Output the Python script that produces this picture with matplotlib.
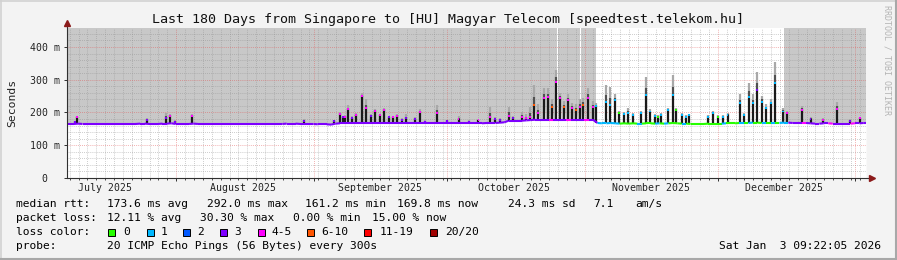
import datetime as dt
import matplotlib
matplotlib.use("Agg")
import matplotlib.pyplot as plt
import matplotlib.dates as mdates
import matplotlib.patches as patches
from matplotlib.collections import LineCollection

plt.rcParams["font.family"] = ["DejaVu Sans Mono"]

W, H = 897, 260
end_time = dt.datetime(2026, 1, 3, 9, 22, 5)
n_days = 180
start_time = end_time - dt.timedelta(days=n_days)

title = "Last 180 Days from Singapore to [HU] Magyar Telecom [speedtest.telekom.hu]"
month_labels = ["July 2025", "August 2025", "September 2025",
                "October 2025", "November 2025", "December 2025"]
month_nums = [(2025, 7), (2025, 8), (2025, 9), (2025, 10), (2025, 11), (2025, 12)]
y_ticks = [0, 100, 200, 300, 400]
y_tick_labels = ["0  ", "100 m", "200 m", "300 m", "400 m"]

# daily median baseline (ms), one value per day since start
base_ms = [
    165, 165, 166, 165, 165, 165, 165, 165, 165, 165,
    165, 165, 165, 165, 165, 165, 166, 166, 165, 165,
    165, 166, 166, 167, 165, 165, 165, 165, 166, 165,
    165, 165, 165, 165, 165, 165, 165, 165, 165, 165,
    165, 165, 165, 165, 165, 165, 165, 165, 165, 166,
    166, 166, 165, 165, 165, 165, 164, 164, 164, 163,
    166, 167, 167, 167, 167, 167, 167, 167, 167, 167,
    167, 167, 167, 167, 167, 167, 167, 167, 167, 167,
    167, 167, 167, 167, 167, 167, 167, 167, 167, 167,
    167, 167, 167, 167, 168, 168, 168, 169, 170, 175,
    175, 175, 175, 176, 177, 178, 178, 178, 178, 178,
    178, 178, 178, 178, 178, 178, 178, 178, 178, 168,
    167, 167, 168, 167, 166, 167, 166, 167, 166, 166,
    167, 167, 166, 167, 166, 167, 168, 167, 166, 166,
    165, 165, 165, 165, 166, 166, 166, 166, 167, 167,
    167, 168, 168, 168, 169, 169, 168, 168, 168, 168,
    168, 169, 169, 168, 168, 168, 168, 167, 166, 166,
    167, 167, 166, 166, 166, 166, 166, 167, 167, 168,
]

# loss class per day (index into loss_colors)
loss_day = [
    3, 3, 3, 3, 3, 3, 3, 3, 3, 3,
    3, 3, 3, 3, 3, 3, 3, 3, 3, 3,
    3, 3, 3, 3, 3, 3, 3, 3, 3, 3,
    3, 3, 3, 3, 3, 3, 3, 3, 3, 3,
    3, 3, 3, 3, 3, 3, 3, 3, 3, 3,
    3, 3, 3, 3, 3, 3, 3, 3, 3, 3,
    3, 3, 3, 3, 3, 3, 3, 3, 3, 3,
    3, 3, 3, 3, 3, 3, 3, 3, 3, 3,
    3, 3, 3, 3, 3, 3, 3, 3, 3, 3,
    3, 3, 3, 3, 3, 3, 3, 3, 3, 3,
    3, 3, 3, 3, 3, 3, 3, 3, 4, 3,
    3, 3, 4, 3, 3, 3, 4, 3, 3, 1,
    1, 1, 1, 1, 0, 0, 0, 0, 1, 0,
    0, 0, 1, 0, 1, 0, 0, 0, 1, 0,
    0, 0, 0, 0, 0, 0, 0, 1, 0, 0,
    0, 1, 0, 1, 0, 0, 1, 0, 1, 0,
    1, 1, 3, 3, 3, 4, 3, 3, 3, 3,
    3, 4, 3, 3, 3, 3, 4, 3, 3, 3,
]

spike_day = [1.7, 2.2, 18.0, 22.3, 23.2, 24.3, 28.1, 53.4, 60.1, 61.4,
             62.2, 62.7, 63.4, 64.1, 65.1, 66.4, 67.4, 68.5, 69.4, 70.5,
             71.4, 72.5, 73.4, 74.4, 75.4, 76.4, 78.4, 79.5, 80.6, 83.3,
             85.5, 88.2, 90.6, 92.7, 95.4, 96.4, 97.5, 99.6, 100.5, 102.4,
             103.4, 104.3, 105.3, 106.2, 107.5, 108.4, 109.3, 110.1, 111.1, 112.0,
             112.8, 113.7, 114.7, 115.6, 116.3, 117.4, 118.4, 119.2, 121.4, 122.3,
             123.4, 124.4, 125.4, 126.4, 127.5, 129.4, 130.4, 131.4, 132.4, 133.2,
             133.9, 135.4, 136.6, 137.3, 138.5, 139.5, 140.2, 144.5, 145.6, 146.7,
             147.8, 148.8, 151.6, 152.6, 153.6, 154.5, 155.5, 156.5, 157.5, 158.5,
             159.5, 161.3, 162.2, 165.5, 167.5, 170.4, 173.4, 176.5, 178.6]
spike_med = [172, 185, 177, 182, 189, 172, 189, 175, 174, 194,
             185, 187, 210, 182, 192, 250, 213, 189, 205, 192,
             208, 185, 185, 189, 177, 182, 180, 202, 172, 198,
             175, 179, 172, 176, 187, 179, 177, 189, 182, 187,
             182, 187, 223, 198, 243, 246, 216, 292, 243, 216,
             238, 213, 208, 216, 223, 243, 216, 220, 233, 223,
             238, 198, 195, 198, 192, 198, 253, 203, 190, 187,
             192, 208, 253, 208, 192, 187, 192, 187, 198, 187,
             187, 193, 228, 192, 248, 228, 269, 233, 213, 228,
             289, 203, 198, 208, 180, 178, 210, 175, 182]
spike_smoke = [175, 190, 182, 198, 195, 176, 194, 180, 178, 202,
               190, 192, 223, 188, 198, 259, 240, 195, 212, 196,
               215, 190, 190, 195, 182, 195, 185, 210, 176, 223,
               178, 190, 176, 180, 218, 185, 182, 218, 190, 200,
               195, 218, 284, 225, 274, 274, 240, 330, 260, 235,
               255, 230, 225, 240, 245, 274, 235, 230, 284, 279,
               257, 205, 200, 215, 198, 205, 309, 210, 196, 192,
               198, 215, 314, 215, 198, 192, 196, 192, 205, 192,
               192, 198, 257, 198, 289, 257, 325, 250, 225, 240,
               355, 215, 205, 220, 185, 183, 233, 180, 187]
spike_loss = [3, 4, 3, 3, 4, 3, 4, 3, 3, 4,
              3, 4, 4, 3, 4, 4, 4, 3, 4, 4,
              4, 3, 4, 4, 3, 3, 3, 4, 3, 4,
              3, 4, 3, 4, 4, 3, 3, 4, 3, 4,
              4, 4, 5, 4, 4, 4, 5, 4, 4, 5,
              4, 4, 5, 4, 5, 4, 4, 1, 1, 1,
              1, 0, 1, 1, 1, 1, 1, 1, 1, 0,
              1, 1, 1, 0, 1, 1, 1, 1, 1, 0,
              1, 1, 1, 1, 1, 1, 3, 1, 1, 1,
              1, 1, 4, 4, 3, 4, 4, 3, 4]

# shaded background periods (day offsets)
gray_spans = [(0, 110.35), (110.6, 115.5), (115.75, 119.2), (161.5, 180)]

loss_colors = ["#26ff00", "#00b8ff", "#0059ff", "#7e00ff",
               "#ff00ff", "#ff5500", "#ff0000", "#a00000"]
loss_names = ["0", "1", "2", "3", "4-5", "6-10", "11-19", "20/20"]

rtt_stats = ["173.6 ms avg", "292.0 ms max", "161.2 ms min", "169.8 ms now",
             "24.3 ms sd", "7.1", "am/s"]
loss_stats = ["12.11 % avg", "30.30 % max", "0.00 % min", "15.00 % now"]
probe_text = "20 ICMP Echo Pings (56 Bytes) every 300s"
stamp = "Sat Jan  3 09:22:05 2026"


def fx(x):
    return x / W


def fy(y):
    return 1 - y / H


fig = plt.figure(figsize=(W / 100, H / 100), dpi=100, facecolor="#f3f3f3")
ax = fig.add_axes([fx(67), fy(178), 799 / W, 150 / H])
t0 = mdates.date2num(start_time)
ax.set_xlim(t0, t0 + n_days)
ax.set_ylim(0, 458)
ax.set_facecolor("white")

for a, b in gray_spans:
    ax.axvspan(t0 + a, t0 + b, color="#c8c8c8", lw=0, zorder=1)

# median path with spikes, white below it
pts = [(0.0, base_ms[0]), (float(n_days), base_ms[-1])]
pts += [(d + 0.5, v) for d, v in enumerate(base_ms)]
for d, m in zip(spike_day, spike_med):
    b = base_ms[int(d)]
    pts += [(d - 0.25, b), (d, m), (d + 0.25, b)]
pts.sort()
ax.fill_between([t0 + p[0] for p in pts], 0, [p[1] for p in pts],
                color="white", lw=0, zorder=1.5)

# smoke
xs, lo, mid, hi, top = [], [], [], [], []
for d, m, s in zip(spike_day, spike_med, spike_smoke):
    xs.append(t0 + d)
    lo.append(base_ms[int(d)])
    mid.append(m)
    hi.append(m + 0.4 * (s - m))
    top.append(s)
ax.vlines(xs, hi, top, color="#a8a8a8", lw=1.6, zorder=3)
ax.vlines(xs, mid, hi, color="#505050", lw=1.6, zorder=3)
ax.vlines(xs, lo, mid, color="#1a1a1a", lw=1.6, zorder=3)

# median line coloured by loss
dx = [0.0] + [d + 0.5 for d in range(n_days)] + [float(n_days)]
dy = [base_ms[0]] + base_ms + [base_ms[-1]]
dc = [loss_day[0]] + loss_day + [loss_day[-1]]
segs = [[(t0 + dx[i], dy[i]), (t0 + dx[i + 1], dy[i + 1])] for i in range(len(dx) - 1)]
cols = [loss_colors[dc[i]] for i in range(len(dx) - 1)]
ax.add_collection(LineCollection(segs, colors=cols, linewidths=1.5, zorder=4))
ax.scatter(xs, spike_med, c=[loss_colors[c] for c in spike_loss],
           marker="s", s=2.0, lw=0, zorder=5)

# grid
ax.set_yticks(y_ticks)
ax.set_yticklabels(y_tick_labels)
ax.set_yticks([v for v in range(0, 459, 20) if v % 100], minor=True)
ax.xaxis.set_major_locator(mdates.MonthLocator())
ax.xaxis.set_minor_locator(mdates.DayLocator(interval=2))
ax.xaxis.set_major_formatter(plt.NullFormatter())
ax.xaxis.set_minor_formatter(plt.NullFormatter())
ax.set_axisbelow(False)
ax.grid(which="minor", color="#8f8f8f", alpha=0.6, lw=0.6, ls=(0, (1, 1.5)))
ax.grid(which="major", color="#e05050", alpha=0.6, lw=0.6, ls=(0, (1, 1.5)))
ax.tick_params(which="major", length=2.2, width=0.7, color="#303030",
               labelsize=7.1, pad=2.5, labelcolor="#222222")
ax.tick_params(axis="x", which="minor", length=1.2, width=0.6, color="#303030")
ax.tick_params(axis="y", which="minor", length=0)

for side in ["top", "right", "left", "bottom"]:
    ax.spines[side].set_visible(False)
ax.plot([t0, t0], [0, 472], color="#303030", lw=0.8, clip_on=False, zorder=6)
ax.plot([t0, t0 + n_days + 0.6], [0, 0], color="#303030", lw=0.8, clip_on=False, zorder=6)
ax.plot([t0], [474], marker="^", color="#8b1a1a", ms=4.5, clip_on=False, zorder=7)
ax.plot([t0 + n_days + 1.3], [0], marker=">", color="#8b1a1a", ms=4.5, clip_on=False, zorder=7)

for (yr, mo), lab in zip(month_nums, month_labels):
    ax.text(mdates.date2num(dt.datetime(yr, mo, 16)), -9.7 / 150, lab,
            transform=ax.get_xaxis_transform(), ha="center", va="center",
            fontsize=7.1, color="#222222")

# titles
fig.text(fx(448), fy(19), title, ha="center", va="center", fontsize=9.6, color="#111111")
fig.text(fx(12), fy(103), "Seconds", rotation=90, ha="center", va="center",
         fontsize=8.2, color="#222222")
fig.text(fx(887), fy(60), "RRDTOOL / TOBI OETIKER", rotation=270, ha="center",
         va="center", fontsize=6, color="#b4b4b4")

# legend
lfs = 8.1
fig.text(fx(16), fy(204), "median rtt:", va="center", fontsize=lfs)
for s, x in zip(rtt_stats, [107.3, 207.3, 305, 397.3, 507.7, 593.3, 635]):
    fig.text(fx(x), fy(204), s, va="center", fontsize=lfs)
fig.text(fx(16), fy(218), "packet loss:", va="center", fontsize=lfs)
for s, x in zip(loss_stats, [107.3, 200, 293.3, 371.7]):
    fig.text(fx(x), fy(218), s, va="center", fontsize=lfs)
fig.text(fx(16), fy(232), "loss color:", va="center", fontsize=lfs)
for c, name, bx, tx in zip(loss_colors, loss_names,
                           [108.3, 146.7, 183.3, 220, 257.7, 307.3, 364.3, 430],
                           [123.3, 161, 196.7, 234.3, 271, 321.7, 380, 445]):
    fig.add_artist(patches.Rectangle((fx(bx), fy(236)), 7 / W, 7 / H,
                                     transform=fig.transFigure, facecolor=c,
                                     edgecolor="black", lw=0.7))
    fig.text(fx(tx), fy(232), name, va="center", fontsize=lfs)
fig.text(fx(16), fy(246), "probe:", va="center", fontsize=lfs)
fig.text(fx(107.3), fy(246), probe_text, va="center", fontsize=lfs)
fig.text(fx(881), fy(246), stamp, ha="right", va="center", fontsize=lfs)

# frame
fig.add_artist(plt.Line2D([0, 1], [fy(0.7), fy(0.7)], transform=fig.transFigure, color="#d2d2d2", lw=1.2))
fig.add_artist(plt.Line2D([fx(0.7), fx(0.7)], [0, 1], transform=fig.transFigure, color="#d2d2d2", lw=1.2))
fig.add_artist(plt.Line2D([0, 1], [fy(259), fy(259)], transform=fig.transFigure, color="#a8a8a8", lw=1.5))
fig.add_artist(plt.Line2D([fx(896), fx(896)], [0, 1], transform=fig.transFigure, color="#a8a8a8", lw=1.5))

fig.savefig("out.png", dpi=100, facecolor=fig.get_facecolor())
